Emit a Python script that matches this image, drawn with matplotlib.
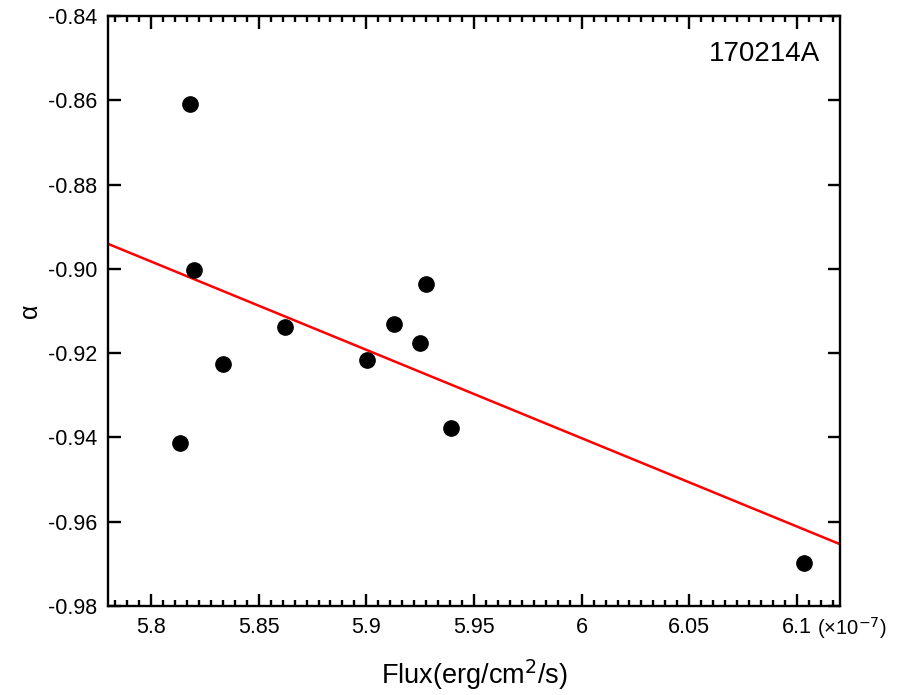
import numpy as np
import matplotlib
matplotlib.use("Agg")
import matplotlib.pyplot as plt
from matplotlib.ticker import AutoMinorLocator, FormatStrFormatter, FuncFormatter

plt.rcParams['font.family'] = ['Liberation Sans', 'DejaVu Sans']
plt.rcParams['axes.unicode_minus'] = False

# flux in units of 1e-7 erg/cm^2/s
flux = [5.8183, 5.8201, 5.8624, 5.8336, 5.8136, 5.9003, 5.9130, 5.9247, 5.9275, 5.9391, 6.1033]
alpha = [-0.8608, -0.9002, -0.9139, -0.9226, -0.9412, -0.9216, -0.9131, -0.9175, -0.9037, -0.9377, -0.9698]
grb_name = "170214A"

fig = plt.figure(figsize=(9.17, 6.95), dpi=100)
ax = fig.add_axes([0.1178, 0.128, 0.7982, 0.849])

ax.plot(flux, alpha, 'o', color='black', markersize=11, zorder=3)

# linear fit
k, b = np.polyfit(flux, alpha, 1)
xlim = (5.78, 6.12)
xx = np.array(xlim)
ax.plot(xx, k * xx + b, color='red', lw=1.8, zorder=2)

ax.set_xlim(*xlim)
ax.set_ylim(-0.98, -0.84)
ax.set_xticks([5.8, 5.85, 5.9, 5.95, 6.0, 6.05, 6.1])
ax.xaxis.set_major_formatter(FuncFormatter(lambda v, p: '%g' % round(v, 3)))
ax.set_yticks(np.arange(-0.98, -0.8399, 0.02))
ax.yaxis.set_major_formatter(FormatStrFormatter('%.2f'))
ax.xaxis.set_minor_locator(AutoMinorLocator(9))

for s in ax.spines.values():
    s.set_linewidth(1.7)
ax.tick_params(which='both', direction='in', top=True, right=True, width=1.7,
               labelsize=15.5, pad=8)
ax.tick_params(which='major', length=9)
ax.tick_params(which='minor', length=4.5)

ax.text(0.969, -0.037, '(×10$^{-7}$)', transform=ax.transAxes,
        ha='left', va='center', fontsize=14.5)
ax.text(0.973, 0.935, grb_name, transform=ax.transAxes, ha='right', va='center',
        fontsize=20)

ax.set_xlabel('Flux(erg/cm$^2$/s)', fontsize=19.5, labelpad=14)
ax.set_ylabel('α', fontsize=18, va='center', ha='center')
ax.yaxis.set_label_coords(-0.107, 0.5)

fig.savefig('out.png', dpi=100)
